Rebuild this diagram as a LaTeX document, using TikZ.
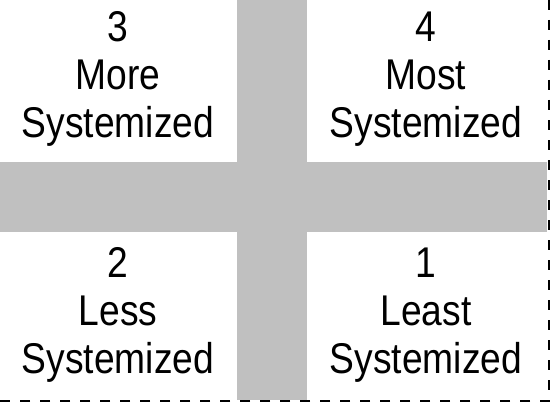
\documentclass[tikz,border=0pt]{standalone}
\usepackage{fontspec}
\newfontfamily\labfont[FakeStretch=0.865]{Liberation Sans}
\definecolor{bargray}{RGB}{192,192,192}
\tikzset{
  quadlabel/.style={font=\labfont\fontsize{43}{48}\selectfont, align=center, inner sep=0pt, text=black},
  bar/.style={fill=bargray, draw=none},
  border/.style={draw=black, line width=2.4pt, dash pattern=on 10pt off 10pt}
}
\begin{document}
\begin{tikzpicture}[x=1pt,y=-1pt]
\useasboundingbox (0,0) rectangle (552,404);
\fill[white] (0,0) rectangle (552,404);
\fill[bar] (237,0) rectangle (307,400);
\fill[bar] (0,162) rectangle (547,232);
\draw[border] (549,0) -- (549,401) -- (0,401);
\node[quadlabel] (q3) at (118,79) {3\\More\\Systemized};
\node[quadlabel] (q4) at (426,79) {4\\Most\\Systemized};
\node[quadlabel] (q2) at (118,315) {2\\Less\\Systemized};
\node[quadlabel] (q1) at (426,315) {1\\Least\\Systemized};
\end{tikzpicture}
\end{document}
